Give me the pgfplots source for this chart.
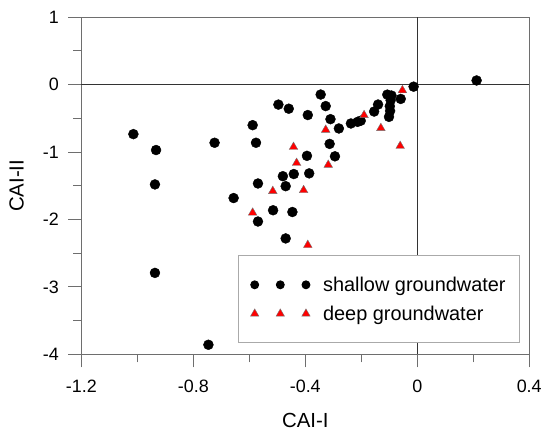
\documentclass[border=0pt]{standalone}
\usepackage{pgfplots}
\pgfplotsset{compat=1.18}
\usepackage{fontspec}
\setmainfont{Liberation Sans}

\definecolor{boxgray}{RGB}{110,110,110}
\definecolor{leggray}{RGB}{170,170,170}

\pgfplotsset{
  threecirc/.style={legend image code/.code={\draw[##1,only marks,mark size=4pt] plot coordinates {(0pt,0pt)(25.7pt,0pt)(51.5pt,0pt)};}},
  threetri/.style={legend image code/.code={\draw[##1,only marks,mark size=4.8pt] plot coordinates {(0pt,0pt)(25.7pt,0pt)(51.5pt,0pt)};}},
}

\begin{document}
\begin{tikzpicture}
\begin{axis}[
  scale only axis,
  width=450pt, height=338.7pt,
  xmin=-1.2, xmax=0.4,
  ymin=-4, ymax=1,
  xtick={-1.2,-0.8,-0.4,0,0.4},
  xticklabels={-1.2,-0.8,-0.4,0,0.4},
  minor xtick={-1.0,-0.6,-0.2,0.2},
  ytick={-4,-3,-2,-1,0,1},
  yticklabels={-4,-3,-2,-1,0,1},
  minor ytick={-3.5,-2.5,-1.5,-0.5,0.5},
  xtick pos=bottom, ytick pos=left,
  tick align=outside,
  major tick length=13pt,
  minor tick length=8pt,
  axis line style={boxgray, line width=0.9pt},
  every tick/.style={boxgray, line width=0.9pt},
  tick label style={font=\fontsize{18}{20}\selectfont},
  xticklabel style={yshift=-9pt},
  yticklabel style={xshift=-6pt},
  /pgf/number format/assume math mode=true,
  xlabel={CAI-I},
  ylabel={CAI-II},
  label style={font=\fontsize{20.5}{22}\selectfont},
  xlabel style={at={(axis description cs:0.5,0)}, anchor=base, yshift=-74pt},
  ylabel style={at={(axis description cs:0,0.5)}, anchor=base, yshift=58pt},
  legend style={at={(rel axis cs:0.3502,0.2932)}, anchor=north west,
    draw=leggray, line width=0.9pt, fill=white,
    font=\fontsize{20}{22}\selectfont,
    inner xsep=12pt, inner ysep=19pt, row sep=9pt, column sep=11pt,
    cells={anchor=west}},
  clip=false,
]
\draw[black!80, line width=0.8pt] (axis cs:0,-4) -- (axis cs:0,1);
\draw[black!80, line width=0.8pt] (axis cs:-1.2,0) -- (axis cs:0.4,0);

\addplot[only marks, mark=*, mark size=5pt, black, threecirc]
coordinates {
(0.212,0.062)
(-0.013,-0.030)
(-0.345,-0.147)
(-0.496,-0.296)
(-0.459,-0.357)
(-0.327,-0.318)
(-0.391,-0.451)
(-0.310,-0.512)
(-0.280,-0.650)
(-0.588,-0.601)
(-1.014,-0.734)
(-0.724,-0.862)
(-0.576,-0.862)
(-0.933,-0.970)
(-0.313,-0.879)
(-0.394,-1.056)
(-0.294,-1.063)
(-0.441,-1.326)
(-0.480,-1.358)
(-0.386,-1.316)
(-0.569,-1.466)
(-0.470,-1.506)
(-0.937,-1.480)
(-0.656,-1.682)
(-0.515,-1.863)
(-0.446,-1.889)
(-0.569,-2.030)
(-0.470,-2.281)
(-0.937,-2.792)
(-0.746,-3.858)
(-0.237,-0.576)
(-0.213,-0.552)
(-0.202,-0.535)
(-0.107,-0.148)
(-0.092,-0.162)
(-0.095,-0.231)
(-0.059,-0.212)
(-0.098,-0.320)
(-0.097,-0.390)
(-0.101,-0.478)
(-0.140,-0.295)
(-0.154,-0.399)
};
\addlegendentry{shallow groundwater}

\addplot[only marks, mark=triangle*, mark size=5pt, draw=black!55, fill=red,
  mark options={draw=black!55, fill=red, line width=0.4pt}, threetri]
coordinates {
(-0.053,-0.084)
(-0.190,-0.453)
(-0.327,-0.670)
(-0.130,-0.645)
(-0.061,-0.910)
(-0.442,-0.925)
(-0.431,-1.162)
(-0.318,-1.190)
(-0.516,-1.579)
(-0.406,-1.566)
(-0.588,-1.900)
(-0.391,-2.379)
};
\addlegendentry{deep groundwater}
\end{axis}
\path (-81.7pt,-73pt) rectangle (463.3pt,356pt);
\end{tikzpicture}
\end{document}
